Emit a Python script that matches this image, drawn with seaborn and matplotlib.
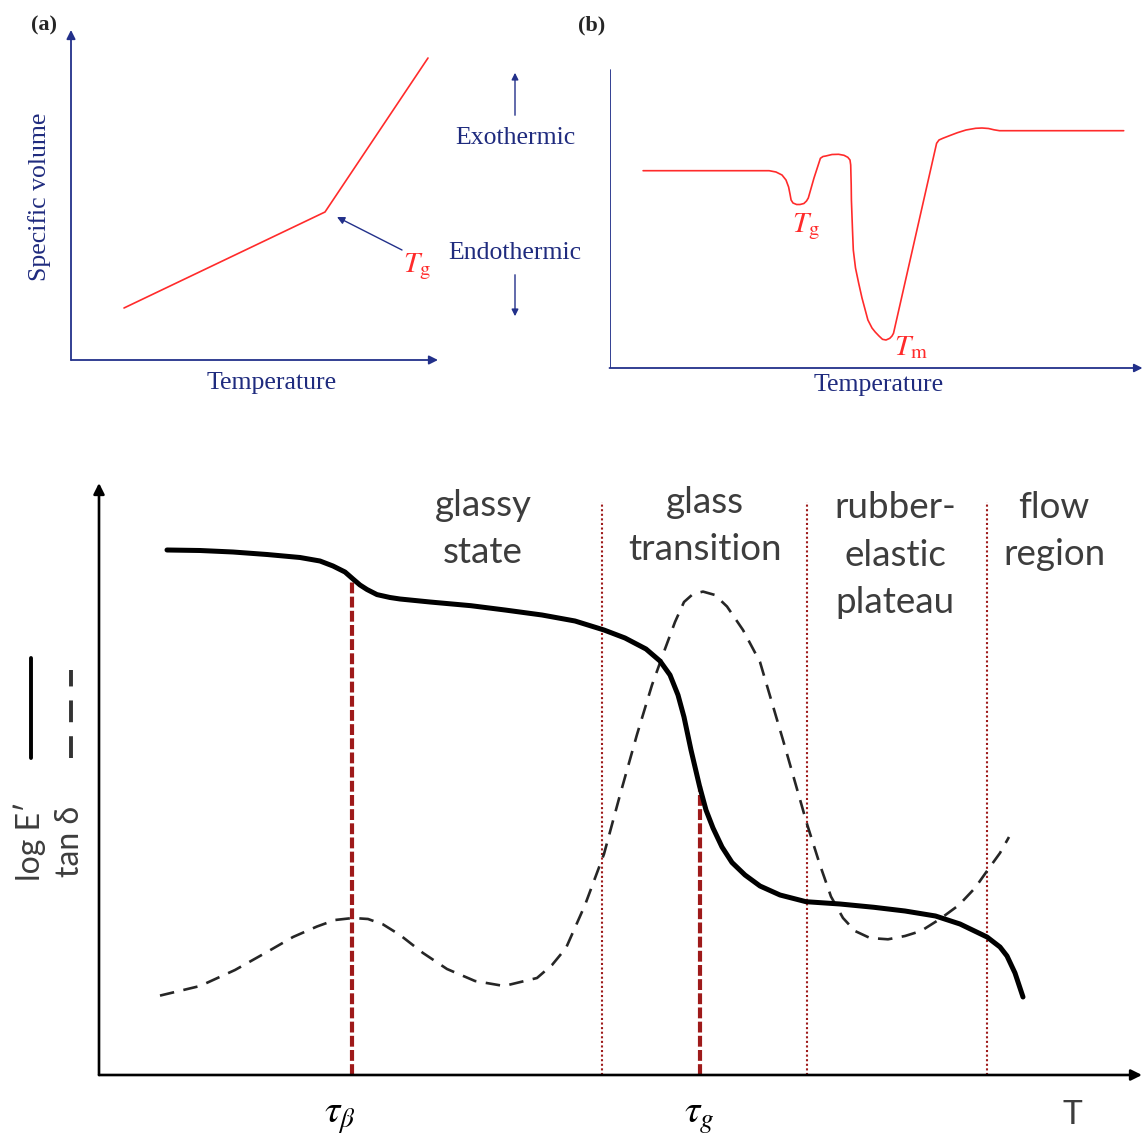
import matplotlib
matplotlib.use("Agg")
import matplotlib.pyplot as plt
import seaborn as sns

# ---------------- data ----------------
# (a) specific volume vs temperature (arbitrary units, origin at axis corner)
vol_T = [53, 254, 357]
vol_V = [52, 148, 302]

# (b) DSC heat-flow curve
dsc_T = [33.6, 159.7, 166.5, 172.5, 176.5, 179.1, 180.5, 181.6, 183.5, 187.1, 190.5,
         194.4, 197.0, 198.8, 204.5, 210.9, 213.5, 216.3, 222.5, 229.1, 234.5, 238.3,
         240.5, 241.2, 241.7, 241.9, 243.0, 243.8, 246.0, 249.2, 252.5, 258.4, 262.5,
         265.7, 269.5, 273.0, 276.5, 280.3, 282.5, 284.0, 327.1, 329.5, 333.3, 340.5,
         347.9, 356.5, 366.2, 372.5, 379.0, 384.5, 390.0, 514.2]
dsc_H = [197.3, 197.3, 196.0, 193.0, 188.0, 181.0, 174.0, 168.0, 165.0, 163.5, 163.5,
         164.5, 167.0, 170.0, 190.0, 209.7, 211.5, 212.0, 213.5, 213.7, 212.7, 210.7,
         208.0, 203.0, 183.0, 168.0, 138.0, 118.0, 100.0, 84.7, 70.0, 48.0, 40.0,
         36.0, 32.0, 28.7, 28.0, 29.7, 32.0, 34.7, 224.7, 228.0, 229.7, 232.5,
         235.3, 238.0, 239.7, 240.0, 239.5, 238.2, 237.3, 237.3]

# (c) DMA: storage modulus log E' and loss factor tan delta vs temperature
logE_T = [68, 101, 134, 168, 201, 221, 234, 246, 254, 261, 268, 278, 291, 301, 331,
          372, 406, 443, 476, 505, 526, 547, 561, 571, 579, 585, 592, 600.5, 607, 614,
          623, 633, 646, 661, 681, 707, 741, 775, 806, 836.5, 861, 888, 901, 908, 916, 924]
logE_val = [525, 524.5, 523, 520.5, 517.5, 514, 509, 503, 496, 490, 485.5, 480.4, 477.5,
            476, 473, 469.3, 465, 460, 454, 445, 437, 426, 414, 400, 380, 358, 325, 289,
            265, 247, 228, 212.5, 200, 189, 180, 173.3, 171, 167.7, 164, 159, 151, 138,
            128, 119, 102, 78]
tan_T = [61, 101, 136, 168, 194, 218, 236, 254, 269, 284, 301, 324, 348, 376, 405, 438,
         453, 467, 486, 505, 521, 538, 553, 566, 576, 585, 594, 604, 616, 628, 644, 661,
         684, 708, 721, 732, 744, 756, 771, 789, 806, 822, 841, 860, 876, 888, 901, 910]
tan_val = [79.4, 89, 105, 123, 138, 148.5, 155, 157, 156, 150.6, 140, 122, 106, 94, 89,
           97, 110, 127, 170, 221, 280, 340.5, 390, 426, 453, 473, 481, 483.4, 480,
           468.5, 445, 413, 335, 251, 210, 178.4, 157, 144, 137, 135.7, 139, 144, 156,
           170, 187, 204, 222, 238]
region_bounds = [503, 708, 888]
region_labels = ["glassy\nstate", "glass\ntransition", "rubber-\nelastic\nplateau", "flow\nregion"]
tau_T = [253, 600.5]
tau_top = [496, 289]
tau_labels = [r"$\tau_\beta$", r"$\tau_g$"]

# ---------------- styling ----------------
sns.set_theme(style="white")
plt.rcParams["font.family"] = ["Liberation Serif", "DejaVu Serif"]
plt.rcParams["mathtext.fontset"] = "stix"

NAVY = "#22308a"
TXT_NAVY = "#1f2b7e"
RED = "#ff2b2b"
DARKRED = "#9e1a1a"
GRAY_TXT = "#3d3d3d"
SANS = ["Lato", "DejaVu Sans"]

W, H = 1143, 1139
fig = plt.figure(figsize=(W / 100, H / 100), dpi=100)


def axes_px(left, top, right, bottom):
    ax = fig.add_axes([left / W, 1 - bottom / H, (right - left) / W, (bottom - top) / H])
    ax.set_axis_off()
    return ax


def arrow(ax, p0, p1, color, lw, ms):
    ax.annotate("", xy=p1, xytext=p0,
                arrowprops=dict(arrowstyle="-|>", color=color, lw=lw,
                                mutation_scale=ms, shrinkA=0, shrinkB=0),
                annotation_clip=False)

# ---------------- panel (a) ----------------
axa = axes_px(71, 28, 440, 360)
axa.set_xlim(0, 369)
axa.set_ylim(0, 332)
arrow(axa, (0, 0), (0, 330), NAVY, 1.3, 13)
arrow(axa, (0, 0), (367, 0), NAVY, 1.3, 13)
sns.lineplot(x=vol_T, y=vol_V, sort=False, estimator=None, color=RED, lw=1.2, ax=axa)
arrow(axa, (331, 110), (vol_T[1] + 12, vol_V[1] - 5), NAVY, 1.0, 11)
axa.text(346, 93, r"$T_{\mathrm{g}}$", color=RED, fontsize=21, ha="center", va="center")
axa.text(-31, 163, "Specific volume", rotation=90, color=TXT_NAVY, fontsize=18.5,
         ha="center", va="center")
axa.text(201, -23, "Temperature", color=TXT_NAVY, fontsize=18.5, ha="center", va="center")

fig.text(44 / W, 1 - 25 / H, "(a)", fontsize=16, fontweight="bold", ha="center", va="center")
fig.text(592 / W, 1 - 25 / H, "(b)", fontsize=16, fontweight="bold", ha="center", va="center")

# exo / endo indicators
fig.text(515 / W, 1 - 138 / H, "Exothermic", color=TXT_NAVY, fontsize=18.5, ha="center", va="center")
fig.text(515 / W, 1 - 253 / H, "Endothermic", color=TXT_NAVY, fontsize=18.5, ha="center", va="center")
fig.add_artist(matplotlib.patches.FancyArrowPatch((515 / W, 1 - 118 / H), (515 / W, 1 - 70 / H),
                                                  transform=fig.transFigure, arrowstyle="-|>",
                                                  mutation_scale=10, color=NAVY, lw=1.0))
fig.add_artist(matplotlib.patches.FancyArrowPatch((515 / W, 1 - 272 / H), (515 / W, 1 - 319 / H),
                                                  transform=fig.transFigure, arrowstyle="-|>",
                                                  mutation_scale=10, color=NAVY, lw=1.0))

# ---------------- panel (b) ----------------
axb = axes_px(609.5, 66, 1143, 368)
axb.set_xlim(0, 533.5)
axb.set_ylim(0, 302)
axb.plot([0, 0], [0, 298], color=NAVY, lw=1.3)
arrow(axb, (0, 0), (533, 0), NAVY, 1.3, 12)
sns.lineplot(x=dsc_T, y=dsc_H, sort=False, estimator=None, color=RED, lw=1.2, ax=axb)
axb.text(196, 141, r"$T_{\mathrm{g}}$", color=RED, fontsize=21, ha="center", va="center")
axb.text(301, 20, r"$T_{\mathrm{m}}$", color=RED, fontsize=21, ha="center", va="center")
axb.text(269, -17, "Temperature", color=TXT_NAVY, fontsize=18.5, ha="center", va="center")

# ---------------- panel (c) ----------------
axc = axes_px(99, 470, 1143, 1075)
axc.set_xlim(0, 1044)
axc.set_ylim(0, 605)
arrow(axc, (0, 0), (0, 592), "black", 1.9, 16)
arrow(axc, (0, 0), (1043, 0), "black", 1.9, 16)

axc.vlines(region_bounds, 0, 573, colors=DARKRED, lw=1.5, linestyles=[(0, (1, 1.2))])
axc.vlines(tau_T, 0, tau_top, colors=DARKRED, lw=3.0, linestyles=[(0, (2.6, 0.8))])

sns.lineplot(x=tan_T, y=tan_val, sort=False, estimator=None, color="#262626", lw=1.9,
             linestyle=(0, (5.5, 3.6)), ax=axc)
sns.lineplot(x=logE_T, y=logE_val, sort=False, estimator=None, color="black", lw=3.6, ax=axc)
for ln in axc.get_lines():
    ln.set_solid_joinstyle("round")

label_x = [384, 606, 796, 904]
label_y = [546, 549, 520, 544]
label_ha = ["center", "center", "center", "left"]
for lab, lx, ly, ha in zip(region_labels, label_x, label_y, label_ha):
    axc.text(lx, ly, lab, family=SANS, fontsize=26.5, color=GRAY_TXT, ha=ha, va="center",
             multialignment="center", linespacing=1.55)

for t, lab, dx in zip(tau_T, tau_labels, [-12, 0]):
    axc.text(t + dx, -42, lab, fontsize=28, ha="center", va="center", color="black")
axc.text(973, -40, "T", family=SANS, fontsize=24, ha="center", va="center", color=GRAY_TXT)

# legend marks at the left
axc.plot([-68, -68], [317, 417], color="black", lw=2.8, clip_on=False)
axc.plot([-28, -28], [317, 405], color="#333333", lw=2.8, linestyle=(0, (5.6, 3.6)),
         clip_on=False)
axc.text(-69, 234, "log E\u2032", family=SANS, fontsize=23, rotation=90, ha="center",
         va="center", color=GRAY_TXT)
axc.text(-29, 234, "tan \u03b4", family=SANS, fontsize=23, rotation=90, ha="center",
         va="center", color=GRAY_TXT)

fig.savefig("out.png", dpi=100, facecolor="white")
